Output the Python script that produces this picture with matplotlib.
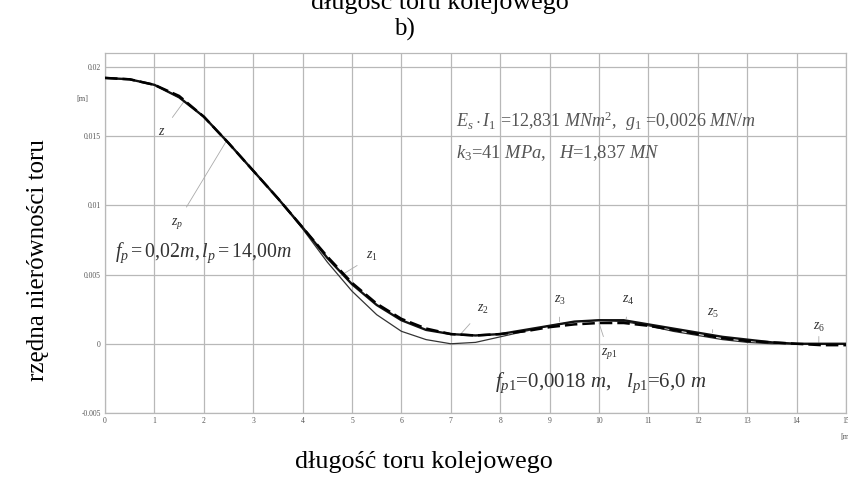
import numpy as np
import matplotlib
matplotlib.use("Agg")
import matplotlib.pyplot as plt

plt.rcParams['font.family'] = ['Liberation Serif', 'DejaVu Serif']
plt.rcParams['mathtext.fontset'] = 'custom'
plt.rcParams['mathtext.rm'] = 'Liberation Serif'
plt.rcParams['mathtext.it'] = 'Liberation Serif:italic'

# track position [m]
x_m = [0.0, 0.5, 1.0, 1.5, 2.0, 2.5, 3.0, 3.5, 4.0, 4.5, 5.0, 5.5, 6.0, 6.5, 7.0, 7.5,
       8.0, 8.5, 9.0, 9.5, 10.0, 10.5, 11.0, 11.5, 12.0, 12.5, 13.0, 13.5, 14.0, 14.5, 15.0]

# response z (thick line)
z_thick = [0.0192, 0.0191, 0.0187, 0.0178, 0.0164, 0.0145, 0.0125, 0.0105, 0.0084, 0.0062,
           0.0043, 0.0028, 0.0017, 0.0010, 0.0007, 0.0006, 0.0007, 0.0010, 0.0013, 0.0016,
           0.0017, 0.0017, 0.0014, 0.0011, 0.0008, 0.0005, 0.0003, 0.0001, 0.0000, 0.0000, 0.0000]

# second response (thin line)
z_thin = [0.0192, 0.0191, 0.0187, 0.0178, 0.0164, 0.0145, 0.0125, 0.0105, 0.0083, 0.0059,
          0.0038, 0.0021, 0.0009, 0.0003, 0.0000, 0.0001, 0.0005, 0.0009, 0.0013, 0.0016,
          0.0017, 0.0016, 0.0013, 0.0009, 0.0006, 0.0003, 0.0001, 0.0000, 0.0000, 0.0000, 0.0000]

# unevenness z_p (dashed)
z_p = [0.0192, 0.0191, 0.0187, 0.0179, 0.0164, 0.0145, 0.0125, 0.0105, 0.0084, 0.0063,
       0.0044, 0.0029, 0.0018, 0.0011, 0.0007, 0.0006, 0.0007, 0.0009, 0.0012, 0.0014,
       0.0015, 0.0015, 0.0013, 0.0010, 0.0007, 0.0004, 0.0002, 0.0001, 0.0000, -0.0001, -0.0001]

x_ticks = list(range(0, 16))
y_ticks = [-0.005, 0, 0.005, 0.01, 0.015, 0.02]
y_tick_labels = ['-0.005', '0', '0.005', '0.01', '0.015', '0.02']

# curve labels: (text, label position, point on curve)
curve_labels = [
    (r'$z$', (1.15, 0.0153), (1.6, 0.0175)),
    (r'$z_p$', (1.45, 0.0087), (2.45, 0.0146)),
    (r'$z_1$', (5.4, 0.0063), (4.85, 0.0051)),
    (r'$z_2$', (7.65, 0.0025), (7.2, 0.0007)),
    (r'$z_3$', (9.2, 0.0031), (9.2, 0.0016)),
    (r'$z_4$', (10.6, 0.0031), (10.55, 0.0018)),
    (r'$z_{p1}$', (10.2, -0.0007), (10.0, 0.0015)),
    (r'$z_5$', (12.3, 0.0022), (12.3, 0.0008)),
    (r'$z_6$', (14.45, 0.0012), (14.45, 0.0001)),
]

fig = plt.figure(figsize=(8.48, 4.84), dpi=100)
ax = fig.add_axes([105 / 848, 1 - 413 / 484, 741 / 848, 360 / 484])

ax.plot(x_m, z_thin, color='#333333', lw=0.9, zorder=3)
ax.plot(x_m, z_thick, color='#111111', lw=1.7, zorder=4)
ax.plot(x_m, z_p, color='#000000', lw=1.8, ls=(0, (5, 2)), zorder=5)

ax.set_xlim(0, 15)
ax.set_ylim(-0.005, 0.021)
ax.set_xticks(x_ticks)
ax.set_yticks(y_ticks)
ax.set_yticklabels(y_tick_labels)
ax.tick_params(length=0, labelsize=5.5, colors='#555555', pad=3)
ax.grid(True, color='#b8b8b8', lw=0.9)
for s in ax.spines.values():
    s.set_color('#b8b8b8')
    s.set_linewidth(0.9)

for txt, (tx, ty), (px, py) in curve_labels:
    ax.annotate(txt, xy=(px, py), xytext=(tx, ty), fontsize=10, color='#333333',
                ha='center', va='center',
                arrowprops=dict(arrowstyle='-', color='#aaaaaa', lw=0.6, shrinkA=5, shrinkB=0))

ax.text(0.2, 0.0066, r'$f_p = 0{,}02m, l_p = 14{,}00m$', fontsize=14.3, color='#333333', va='center')
ax.text(7.1, 0.0161, r'$E_s \cdot I_1$ =12,831 $MNm^2$,  $g_1$ =0,0026 $MN/m$',
        fontsize=13, color='#555555', va='center')
ax.text(7.1, 0.0138, r'$k_3$=41 $MPa$,   $H$=1,837 $MN$',
        fontsize=13.3, color='#555555', va='center')
ax.text(7.9, -0.0028, r'$f_{p1}$=0,0018 $m$,   $l_{p1}$=6,0 $m$', fontsize=15, color='#333333',
        va='center')

fig.text(82 / 848, 1 - 99 / 484, '[m]', fontsize=6, color='#555555', ha='center', va='center')
fig.text(840 / 848, 1 - 437 / 484, '[m]', fontsize=6, color='#555555', ha='left', va='center')

fig.text(38 / 848, 1 - 260 / 484, 'rzędna nierówności toru', rotation=90, fontsize=18,
         ha='center', va='center')
fig.text(424 / 848, 1 - 462 / 484, 'długość toru kolejowego', fontsize=18.7,
         ha='center', va='center')
fig.text(440 / 848, 1 - 9 / 484, 'długość toru kolejowego', fontsize=18.7,
         ha='center', va='baseline')
fig.text(404 / 848, 1 - 29 / 484, 'b)', fontsize=18, ha='center', va='center')

fig.savefig('out.png', dpi=100)
